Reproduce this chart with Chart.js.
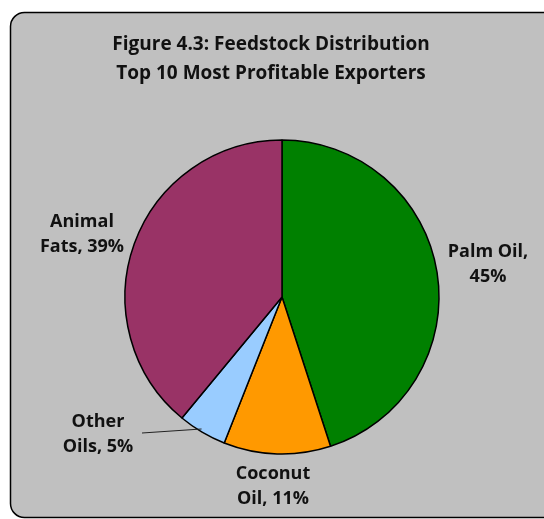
<!DOCTYPE html>
<html>
<head>
<meta charset="utf-8">
<script src="https://cdn.jsdelivr.net/npm/chart.js@4/dist/chart.umd.min.js"></script>
<style>
  html, body { margin: 0; padding: 0; background: #ffffff; }
  #wrap { width: 544px; height: 519px; }
</style>
</head>
<body>
<div id="wrap"><canvas id="feedChart" width="544" height="519"></canvas></div>
<script>
const categories = ['Palm Oil', 'Coconut Oil', 'Other Oils', 'Animal Fats'];
const shares = [45, 11, 5, 39];
const sliceColors = ['#008000', '#ff9900', '#99ccff', '#993366'];
const titleLines = ['Figure 4.3: Feedstock Distribution', 'Top 10 Most Profitable Exporters'];

// label text for each slice, split over two lines like the printed figure
const labelLines = [
    ['Palm Oil,', '45%'],
    ['Coconut', 'Oil, 11%'],
    ['Other', 'Oils, 5%'],
    ['Animal', 'Fats, 39%']
];
// where each label block sits (center x, first line y)
const labelPos = [
    { x: 488, y: 252 },
    { x: 273, y: 474 },
    { x: 98, y: 422 },
    { x: 82, y: 222 }
];

const FONT = '"Open Sans", Lato, sans-serif';

const framePlugin = {
    id: 'frame',
    beforeDraw(chart) {
        const ctx = chart.ctx;
        ctx.save();
        ctx.fillStyle = '#ffffff';
        ctx.fillRect(0, 0, chart.width, chart.height);
        const x = 10.5, y = 12.5, w = 560, h = 505, r = 14;
        ctx.beginPath();
        ctx.moveTo(x + r, y);
        ctx.lineTo(x + w - r, y);
        ctx.arcTo(x + w, y, x + w, y + r, r);
        ctx.lineTo(x + w, y + h - r);
        ctx.arcTo(x + w, y + h, x + w - r, y + h, r);
        ctx.lineTo(x + r, y + h);
        ctx.arcTo(x, y + h, x, y + h - r, r);
        ctx.lineTo(x, y + r);
        ctx.arcTo(x, y, x + r, y, r);
        ctx.closePath();
        ctx.fillStyle = '#c0c0c0';
        ctx.fill();
        ctx.lineWidth = 1.5;
        ctx.strokeStyle = '#000000';
        ctx.stroke();

        ctx.fillStyle = '#111111';
        ctx.textAlign = 'center';
        ctx.textBaseline = 'middle';
        ctx.font = 'bold 19px ' + FONT;
        ctx.fillText(titleLines[0], 271, 45);
        ctx.fillText(titleLines[1], 271, 74);
        ctx.restore();
    }
};

const labelPlugin = {
    id: 'sliceLabels',
    afterDraw(chart) {
        const ctx = chart.ctx;
        const meta = chart.getDatasetMeta(0);
        ctx.save();
        ctx.fillStyle = '#111111';
        ctx.textAlign = 'center';
        ctx.textBaseline = 'middle';
        ctx.font = 'bold 18px ' + FONT;
        labelLines.forEach((lines, i) => {
            const p = labelPos[i];
            lines.forEach((t, k) => ctx.fillText(t, p.x, p.y + k * 25));
        });
        // leader line for the thin slice
        const arc = meta.data[2];
        const mid = (arc.startAngle + arc.endAngle) / 2;
        const ex = arc.x + Math.cos(mid) * (arc.outerRadius + 1);
        const ey = arc.y + Math.sin(mid) * (arc.outerRadius + 1) - 4;
        ctx.beginPath();
        ctx.moveTo(142, 433);
        ctx.lineTo(ex, ey);
        ctx.lineWidth = 1;
        ctx.strokeStyle = '#222222';
        ctx.stroke();
        ctx.restore();
    }
};

new Chart(document.getElementById('feedChart'), {
    type: 'pie',
    data: {
        labels: categories,
        datasets: [{
            data: shares,
            backgroundColor: sliceColors,
            borderColor: '#000000',
            borderWidth: 1.5,
            radius: 157
        }]
    },
    options: {
        responsive: false,
        animation: false,
        layout: { padding: { left: 20, right: 0, top: 75, bottom: 0 } },
        plugins: {
            legend: { display: false },
            title: { display: false },
            tooltip: { enabled: false }
        }
    },
    plugins: [framePlugin, labelPlugin]
});
</script>
</body>
</html>
